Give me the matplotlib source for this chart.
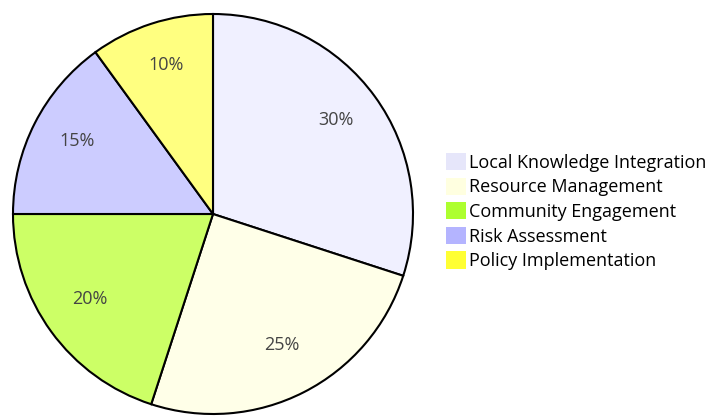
import matplotlib.pyplot as plt
from matplotlib.patches import Patch
from matplotlib.transforms import offset_copy

plt.rcParams['font.family'] = ['Open Sans', 'DejaVu Sans']

# data
labels = [
    "Local Knowledge Integration",
    "Resource Management",
    "Community Engagement",
    "Risk Assessment",
    "Policy Implementation",
]
shares = [30, 25, 20, 15, 10]

# colours: slices are drawn lighter than the legend swatches
legend_colors = ["#E6E6FA", "#FFFFE0", "#ADFF2F", "#B4B4FF", "#FFFF33"]
slice_colors = ["#F0F0FF", "#FFFFE8", "#CCFF66", "#CCCCFF", "#FFFF80"]

fig = plt.figure(figsize=(7.14, 4.17), dpi=100)
ax = fig.add_axes([11 / 714, 1 / 417, 404 / 714, 404 / 417])

wedges, texts, autotexts = ax.pie(
    shares,
    colors=slice_colors,
    startangle=90,
    counterclock=False,
    autopct='%1.0f%%',
    pctdistance=0.76,
    wedgeprops=dict(edgecolor='black', linewidth=1.5),
    textprops=dict(color='#444444', fontsize=13),
)
# nudge the percentage labels up a little
for t in autotexts:
    t.set_transform(offset_copy(t.get_transform(), fig=fig, y=3, units='points'))
ax.set_xlim(-1.01, 1.01)
ax.set_ylim(-1.01, 1.01)

handles = [Patch(facecolor=c, edgecolor='none') for c in legend_colors]
fig.legend(handles, labels, loc='upper left', bbox_to_anchor=(446 / 714, 1 - 153 / 417),
           frameon=False, fontsize=13, handlelength=1.1, handleheight=1.1,
           handletextpad=0.2, labelspacing=0.32, borderaxespad=0, borderpad=0)

plt.savefig('out.png', format='png', dpi=100)
